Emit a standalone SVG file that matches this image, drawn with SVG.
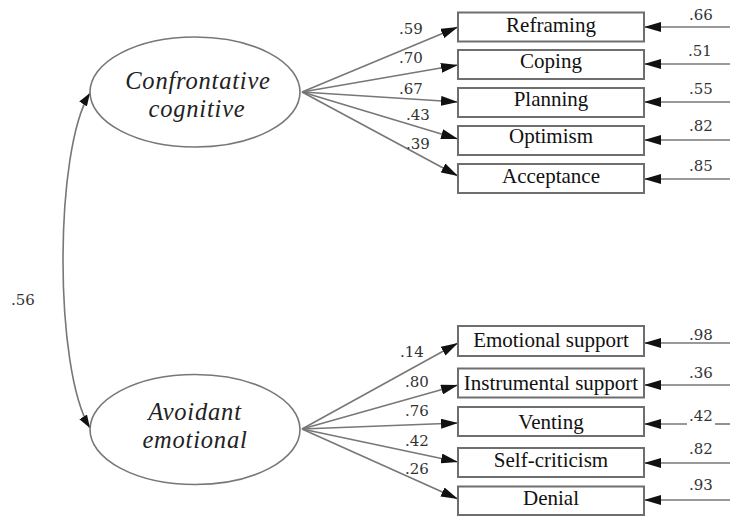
<svg xmlns="http://www.w3.org/2000/svg" width="730" height="519" viewBox="0 0 730 519">
<style>
.box{fill:#fff;stroke:#6e6e6e;stroke-width:2}
.ell{fill:#fff;stroke:#777;stroke-width:1.6}
.bt{font-family:'Liberation Serif',serif;font-size:21px;fill:#111;text-anchor:middle}
.lt{font-family:'Liberation Serif',serif;font-size:24.5px;font-style:italic;letter-spacing:0.8px;fill:#222;text-anchor:middle}
.num{font-family:'DejaVu Serif',serif;font-size:15px;fill:#333;text-anchor:middle}
.ln{fill:none;stroke:#777;stroke-width:1.6}
</style>
<defs>
<marker id="ah" markerUnits="userSpaceOnUse" markerWidth="17" markerHeight="10" refX="17" refY="5" orient="auto">
<path d="M0,0 L17,5 L0,10 Z" fill="#111"/>
</marker>
<marker id="ahs" markerUnits="userSpaceOnUse" markerWidth="13" markerHeight="9" refX="13" refY="4.5" orient="auto-start-reverse">
<path d="M0,0 L13,4.5 L0,9 Z" fill="#111"/>
</marker>
</defs>
<g id="connectors">
<path class="ln" d="M90,93 C54,150 54,370 90,428" marker-start="url(#ahs)" marker-end="url(#ahs)"/>
<line class="ln" x1="302" y1="92" x2="458" y2="27" marker-end="url(#ah)"/>
<line class="ln" x1="302" y1="92" x2="458" y2="65" marker-end="url(#ah)"/>
<line class="ln" x1="302" y1="92" x2="458" y2="102" marker-end="url(#ah)"/>
<line class="ln" x1="302" y1="92" x2="458" y2="139" marker-end="url(#ah)"/>
<line class="ln" x1="302" y1="92" x2="458" y2="176" marker-end="url(#ah)"/>
<line class="ln" x1="302" y1="429" x2="458" y2="343" marker-end="url(#ah)"/>
<line class="ln" x1="302" y1="429" x2="458" y2="385" marker-end="url(#ah)"/>
<line class="ln" x1="302" y1="429" x2="458" y2="423" marker-end="url(#ah)"/>
<line class="ln" x1="302" y1="429" x2="458" y2="462" marker-end="url(#ah)"/>
<line class="ln" x1="302" y1="429" x2="458" y2="499" marker-end="url(#ah)"/>
<line class="ln" x1="730" y1="27" x2="644" y2="27" marker-end="url(#ah)"/>
<line class="ln" x1="730" y1="64" x2="644" y2="64" marker-end="url(#ah)"/>
<line class="ln" x1="730" y1="102" x2="644" y2="102" marker-end="url(#ah)"/>
<line class="ln" x1="730" y1="140" x2="644" y2="140" marker-end="url(#ah)"/>
<line class="ln" x1="730" y1="179" x2="644" y2="179" marker-end="url(#ah)"/>
<line class="ln" x1="730" y1="343" x2="644" y2="343" marker-end="url(#ah)"/>
<line class="ln" x1="730" y1="385" x2="644" y2="385" marker-end="url(#ah)"/>
<line class="ln" x1="730" y1="424" x2="715" y2="424"/>
<line class="ln" x1="687" y1="424" x2="644" y2="424" marker-end="url(#ah)"/>
<line class="ln" x1="730" y1="463" x2="644" y2="463" marker-end="url(#ah)"/>
<line class="ln" x1="730" y1="500" x2="644" y2="500" marker-end="url(#ah)"/>
</g>
<g id="labels">
<text class="num" x="23" y="305">.56</text>
<text class="num" x="411" y="34">.59</text>
<text class="num" x="411" y="63">.70</text>
<text class="num" x="411" y="94">.67</text>
<text class="num" x="418" y="120">.43</text>
<text class="num" x="418" y="149">.39</text>
<text class="num" x="412" y="357">.14</text>
<text class="num" x="417" y="387">.80</text>
<text class="num" x="417" y="416">.76</text>
<text class="num" x="417" y="446">.42</text>
<text class="num" x="417" y="474">.26</text>
<text class="num" x="701" y="20">.66</text>
<text class="num" x="700" y="56">.51</text>
<text class="num" x="701" y="94">.55</text>
<text class="num" x="701" y="131">.82</text>
<text class="num" x="701" y="171">.85</text>
<text class="num" x="701" y="340">.98</text>
<text class="num" x="701" y="378">.36</text>
<text class="num" x="701" y="421">.42</text>
<text class="num" x="701" y="454">.82</text>
<text class="num" x="701" y="490">.93</text>
</g>
<g id="confrontative-cognitive">
<ellipse class="ell" cx="195" cy="92" rx="105" ry="55"/>
<text class="lt" x="198" y="89">Confrontative</text>
<text class="lt" x="197" y="117">cognitive</text>
</g>
<g id="avoidant-emotional">
<ellipse class="ell" cx="195" cy="429.5" rx="105" ry="55"/>
<text class="lt" x="195" y="420">Avoidant</text>
<text class="lt" x="195" y="448">emotional</text>
</g>
<g id="reframing"><rect class="box" x="458" y="12.5" width="186" height="29"/><text class="bt" x="551" y="32">Reframing</text></g>
<g id="coping"><rect class="box" x="458" y="50" width="186" height="29"/><text class="bt" x="551" y="68">Coping</text></g>
<g id="planning"><rect class="box" x="458" y="88" width="186" height="29"/><text class="bt" x="551" y="106">Planning</text></g>
<g id="optimism"><rect class="box" x="458" y="126" width="186" height="29"/><text class="bt" x="551" y="143">Optimism</text></g>
<g id="acceptance"><rect class="box" x="458" y="164" width="186" height="29"/><text class="bt" x="551" y="183">Acceptance</text></g>
<g id="emotional-support"><rect class="box" x="458" y="326" width="186" height="30"/><text class="bt" x="551" y="347">Emotional support</text></g>
<g id="instrumental-support"><rect class="box" x="458" y="368.5" width="186" height="29"/><text class="bt" x="551" y="390">Instrumental support</text></g>
<g id="venting"><rect class="box" x="458" y="407" width="186" height="29"/><text class="bt" x="551" y="429">Venting</text></g>
<g id="self-criticism"><rect class="box" x="458" y="448" width="186" height="29"/><text class="bt" x="551" y="467">Self-criticism</text></g>
<g id="denial"><rect class="box" x="458" y="486.5" width="186" height="28.5"/><text class="bt" x="551" y="505">Denial</text></g>
</svg>
